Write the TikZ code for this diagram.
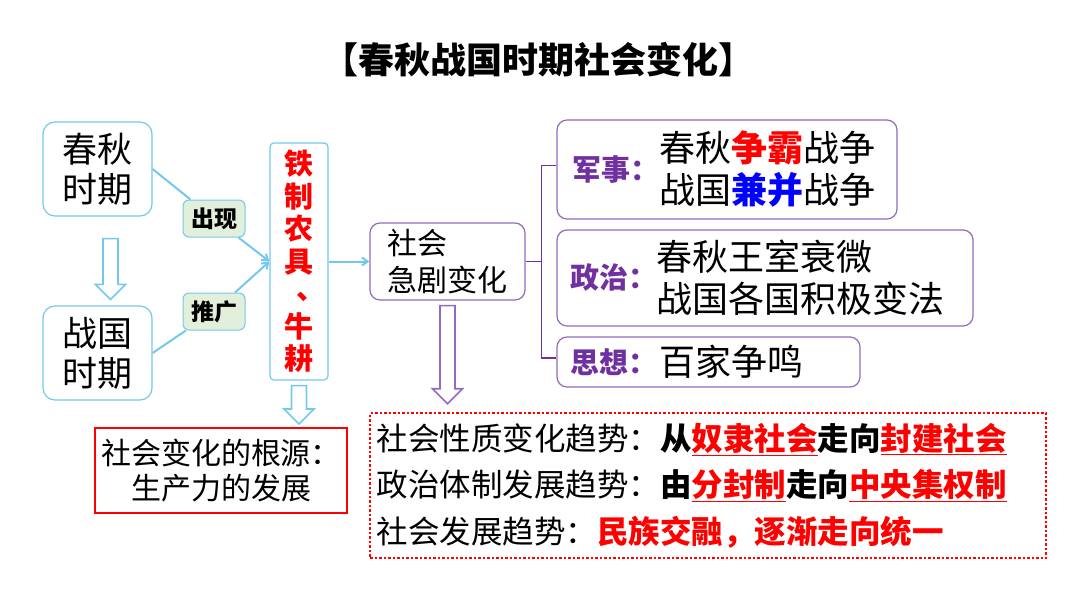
\documentclass[tikz,border=0pt]{standalone}
\usepackage{fontspec}
\setmainfont{Noto Sans CJK SC}
\usetikzlibrary{arrows.meta,positioning,calc}
\definecolor{skyline}{RGB}{115,200,236}
\definecolor{plum}{RGB}{112,48,160}
\definecolor{plumline}{RGB}{150,105,190}
\definecolor{tagfill}{RGB}{226,239,218}
\newcommand\fs[2]{\fontsize{#1}{#2}\selectfont}
\newcommand\redul[1]{\textcolor{red}{\underline{#1}}}
\newcommand\hollowarrow[3]{%
  \draw[#3, line width=1.6pt, line join=miter] let \p1=(#1), \p2=(#2) in
    (\x1-7.5pt,\y1) -- (\x1+7.5pt,\y1) -- (\x1+7.5pt,\y2+15pt) -- (\x1+15pt,\y2+15pt)
    -- (\x1,\y2) -- (\x1-15pt,\y2+15pt) -- (\x1-7.5pt,\y2+15pt) -- cycle;}

\begin{document}
\begin{tikzpicture}[
  x=1pt, y=-1pt,
  period/.style={draw=skyline, line width=1.2pt, rounded corners=12pt, minimum width=109pt, minimum height=94pt, align=center, font=\fs{35}{40}},
  tagbox/.style={draw=skyline, fill=tagfill, line width=1pt, rounded corners=6pt, minimum width=62pt, minimum height=37pt, inner sep=0pt, font=\fs{23}{26}\bfseries},
  box/.style={draw=plumline, line width=1.2pt, rounded corners=10pt, inner sep=0pt},
  cat/.style={anchor=west, inner sep=0pt, text=plum, font=\fs{29}{32}\bfseries},
  item/.style={anchor=west, inner sep=0pt, align=left, font=\fs{36}{42}},
  bl/.style={draw=skyline, line width=2pt},
  arr/.style={bl, -{Straight Barb[angle=70:7pt, line width=2pt]}}
]
\useasboundingbox (0,0) rectangle (1080,608);
\node[font=\fs{36}{40}\bfseries] (title) at (538,60) {【春秋战国时期社会变化】};

\node[period] (chunqiu) at (97.5,169) {春秋\\时期};
\node[period] (zhanguo) at (97.5,353) {战国\\时期};
\node[tagbox] (chuxian) at (214,218.5) {出现};
\node[tagbox] (tuiguang) at (214,311.5) {推广};
\node[draw=skyline, line width=1.2pt, rounded corners=4pt, minimum width=58pt, minimum height=237pt, inner sep=0pt, align=center, text=red, font=\fs{29}{32.5}\bfseries] (tie) at (299,261.5) {铁\\制\\农\\具\\\hbox to 1em{\kern0.4em\raisebox{0.2em}{、}\hss}\\牛\\耕};
\node[box, minimum width=155pt, minimum height=77pt, align=left, font=\fs{30}{37}] (shehui) at (447.5,261.5) {社会\\急剧变化};

\node[box, minimum width=340pt, minimum height=99pt] (junshi) at (727,169.5) {};
\node[cat] (junshiTag) at ([xshift=16pt]junshi.west) {军事：};
\node[item] (junshiText) at ([xshift=103pt]junshi.west) {春秋\textcolor{red}{\textbf{争霸}}战争\\战国\textcolor{blue}{\textbf{兼并}}战争};
\node[box, minimum width=416pt, minimum height=96pt] (zhengzhi) at (765,278) {};
\node[cat] (zhengzhiTag) at ([xshift=14pt]zhengzhi.west) {政治：};
\node[item] (zhengzhiText) at ([xshift=100pt]zhengzhi.west) {春秋王室衰微\\战国各国积极变法};
\node[box, minimum width=303pt, minimum height=50pt] (sixiang) at (708.5,362) {};
\node[cat] (sixiangTag) at ([xshift=14pt]sixiang.west) {思想：};
\node[item] (sixiangText) at ([xshift=103pt]sixiang.west) {百家争鸣};

\node[draw=red, line width=2pt, minimum width=252pt, minimum height=85pt, align=center, font=\fs{30}{35}] (root) at (221,470.5) {社会变化的根源：\\生产力的发展};
\node[draw=red, line width=2.5pt, dotted, minimum width=676pt, minimum height=145pt, inner sep=0pt] (trend) at (708,485.5) {};
\node[item, font=\fs{31.5}{46.5}] (trendText) at ([xshift=8pt]trend.west) {社会性质变化趋势：\textbf{从\redul{奴隶社会}走向\redul{封建社会}}\\政治体制发展趋势：\textbf{由\redul{分封制}走向\redul{中央集权制}}\\社会发展趋势：\textcolor{red}{\textbf{民族交融，逐渐走向统一}}};

\draw[bl] (chunqiu.east) -- (chuxian);
\draw[bl] (zhanguo.east) -- (tuiguang);
\draw[arr] (chuxian) -- (tie.west);
\draw[arr] (tuiguang) -- (tie.west);
\draw[arr] (tie.east) -- (shehui.west);
\draw[plum, line width=1.6pt] (shehui.east) -- ++(16,0) coordinate (fork) |- ([yshift=4pt]junshi.west);
\draw[plum, line width=1.6pt] (fork) |- ([yshift=4pt]sixiang.west);

\coordinate (a1) at ([xshift=13pt,yshift=-22pt]chunqiu.south);
\coordinate (b1) at ([xshift=13pt,yshift=6pt]zhanguo.north);
\coordinate (a2) at ([yshift=-5pt]tie.south);
\coordinate (b2) at ([yshift=3pt]root.north -| tie.south);
\coordinate (a3) at ([yshift=-5pt]shehui.south);
\coordinate (b3) at ([yshift=8pt]trend.north -| shehui.south);
\hollowarrow{a1}{b1}{skyline}
\hollowarrow{a2}{b2}{skyline}
\hollowarrow{a3}{b3}{plumline}
\end{tikzpicture}
\end{document}
